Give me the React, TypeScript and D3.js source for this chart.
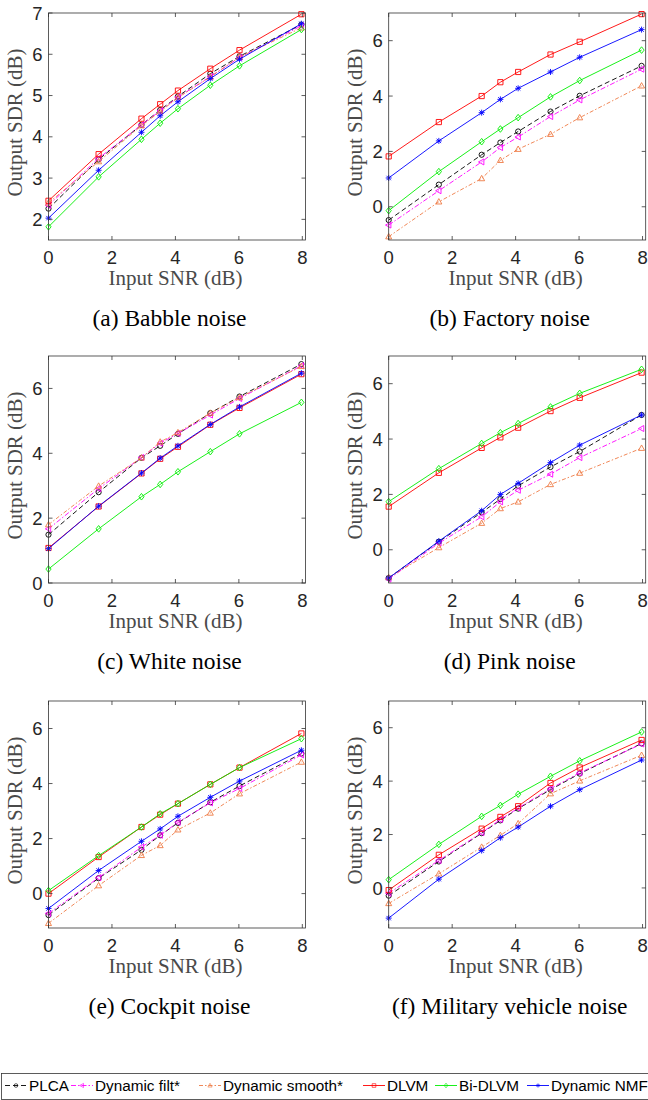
import React from 'react';
import * as d3 from 'd3';

// input SNR (dB) at which every method was evaluated
const snrIn = [0, 1.58, 2.93, 3.52, 4.08, 5.1, 6.02, 7.97];

const methods = ['PLCA', 'Dynamic filt*', 'Dynamic smooth*', 'DLVM', 'Bi-DLVM', 'Dynamic NMF'];
const methodColors = ['#000000', '#ff00ff', '#ee7a45', '#ff0000', '#00ee00', '#0000ff'];
const methodDash = ['5,3', '5,2,1.5,2', '4,2,1.5,2', '', '', ''];
const methodMarker = ['circle', 'triLeft', 'triUp', 'square', 'diamond', 'asterisk'];

// output SDR (dB), one row per method in the order above
const babble = [
  [2.26, 3.45, 4.29, 4.65, 4.98, 5.53, 5.95, 6.72],
  [2.34, 3.48, 4.29, 4.63, 4.96, 5.46, 5.92, 6.69],
  [2.4, 3.4, 4.27, 4.61, 4.95, 5.45, 5.93, 6.64],
  [2.45, 3.58, 4.44, 4.79, 5.12, 5.65, 6.1, 6.97],
  [1.82, 3.03, 3.94, 4.33, 4.68, 5.25, 5.72, 6.6],
  [2.03, 3.19, 4.11, 4.51, 4.85, 5.41, 5.88, 6.74],
];
const factory = [
  [-0.48, 0.8, 1.88, 2.32, 2.72, 3.44, 4.01, 5.09],
  [-0.66, 0.58, 1.62, 2.14, 2.52, 3.26, 3.86, 4.97],
  [-1.08, 0.18, 1.02, 1.68, 2.08, 2.62, 3.22, 4.37],
  [1.82, 3.06, 4.0, 4.5, 4.87, 5.5, 5.96, 6.96],
  [-0.14, 1.27, 2.35, 2.81, 3.22, 3.97, 4.56, 5.66],
  [1.04, 2.38, 3.4, 3.88, 4.28, 4.87, 5.4, 6.4],
];
const white = [
  [1.49, 2.8, 3.86, 4.23, 4.6, 5.24, 5.75, 6.75],
  [1.67, 2.91, 3.87, 4.31, 4.61, 5.18, 5.69, 6.7],
  [1.8, 2.99, 3.86, 4.35, 4.64, 5.24, 5.72, 6.68],
  [1.08, 2.36, 3.38, 3.83, 4.2, 4.88, 5.4, 6.44],
  [0.43, 1.67, 2.66, 3.04, 3.43, 4.05, 4.6, 5.57],
  [1.06, 2.37, 3.39, 3.85, 4.23, 4.89, 5.43, 6.47],
];
const pink = [
  [-1.02, 0.29, 1.35, 1.83, 2.31, 2.99, 3.55, 4.87],
  [-1.06, 0.24, 1.19, 1.73, 2.15, 2.73, 3.33, 4.38],
  [-1.0, 0.08, 0.96, 1.49, 1.73, 2.36, 2.77, 3.67],
  [1.56, 2.78, 3.68, 4.06, 4.41, 5.01, 5.49, 6.4],
  [1.74, 2.93, 3.84, 4.23, 4.56, 5.16, 5.65, 6.52],
  [-1.02, 0.31, 1.41, 2.0, 2.4, 3.15, 3.78, 4.87],
];
const cockpit = [
  [-0.78, 0.56, 1.59, 2.12, 2.57, 3.32, 3.91, 5.09],
  [-0.72, 0.58, 1.69, 2.12, 2.59, 3.3, 3.82, 5.04],
  [-1.08, 0.29, 1.39, 1.75, 2.32, 2.93, 3.63, 4.78],
  [0.0, 1.33, 2.42, 2.87, 3.27, 3.97, 4.58, 5.82],
  [0.11, 1.38, 2.42, 2.9, 3.27, 3.97, 4.58, 5.63],
  [-0.54, 0.84, 1.9, 2.35, 2.81, 3.5, 4.09, 5.21],
];
const military = [
  [-0.29, 0.99, 2.05, 2.53, 2.97, 3.68, 4.28, 5.41],
  [-0.2, 1.03, 2.07, 2.56, 2.99, 3.72, 4.31, 5.39],
  [-0.58, 0.53, 1.53, 1.97, 2.41, 3.53, 4.01, 4.97],
  [-0.08, 1.24, 2.22, 2.66, 3.06, 3.93, 4.51, 5.54],
  [0.31, 1.63, 2.68, 3.09, 3.51, 4.18, 4.76, 5.84],
  [-1.13, 0.33, 1.4, 1.88, 2.28, 3.06, 3.68, 4.79],
];

const panels = [
  { caption: '(a) Babble noise', data: babble, yDomain: [1.5, 7], yTicks: [2, 3, 4, 5, 6, 7] },
  { caption: '(b) Factory noise', data: factory, yDomain: [-1.2, 7], yTicks: [0, 2, 4, 6] },
  { caption: '(c) White noise', data: white, yDomain: [0, 7], yTicks: [0, 2, 4, 6] },
  { caption: '(d) Pink noise', data: pink, yDomain: [-1.2, 7], yTicks: [0, 2, 4, 6] },
  { caption: '(e) Cockpit noise', data: cockpit, yDomain: [-1.25, 7], yTicks: [0, 2, 4, 6] },
  { caption: '(f) Military vehicle noise', data: military, yDomain: [-1.5, 7], yTicks: [0, 2, 4, 6] },
];
const xTicks = [0, 2, 4, 6, 8];

const W = 257;
const H = 227;
const colLeft = [48.5, 388.7];
const rowTop = [13, 356, 701];
const sans = '"Liberation Sans", Arial, sans-serif';
const serif = '"Liberation Serif", "Times New Roman", serif';

function markerPath(type: string, x: number, y: number): string {
  const s = 2.6;
  switch (type) {
    case 'circle':
      return `M${x + s},${y}A${s},${s} 0 1,1 ${x - s},${y}A${s},${s} 0 1,1 ${x + s},${y}Z`;
    case 'square':
      return `M${x - s},${y - s}h${2 * s}v${2 * s}h${-2 * s}Z`;
    case 'diamond':
      return `M${x},${y - 3.3}L${x + 2.6},${y}L${x},${y + 3.3}L${x - 2.6},${y}Z`;
    case 'triUp':
      return `M${x},${y - 3.2}L${x + 3},${y + 2.2}L${x - 3},${y + 2.2}Z`;
    case 'triLeft':
      return `M${x - 3.2},${y}L${x + 2.2},${y - 3}L${x + 2.2},${y + 3}Z`;
    default: {
      // asterisk
      const a = 3, d = 2.2;
      return `M${x - a},${y}H${x + a}M${x},${y - a}V${y + a}M${x - d},${y - d}L${x + d},${y + d}M${x - d},${y + d}L${x + d},${y - d}`;
    }
  }
}

const Panel = ({ p, left, top }: any) => {
  const x = d3.scaleLinear().domain([0, 8.1]).range([left, left + W]);
  const y = d3.scaleLinear().domain(p.yDomain).range([top + H, top]);
  const line = d3.line<number>().x((_, i) => x(snrIn[i])).y(d => y(d));
  const cx = left + W / 2;
  return (
    <g>
      {p.data.map((vals: number[], m: number) => (
        <g key={m}>
          <path d={line(vals) || ''} fill="none" stroke={methodColors[m]} strokeWidth={0.9}
            strokeDasharray={methodDash[m] || undefined} />
          {vals.map((v, i) => (
            <path key={i} d={markerPath(methodMarker[m], x(snrIn[i]), y(v))} fill="none"
              stroke={methodColors[m]} strokeWidth={0.9} />
          ))}
        </g>
      ))}
      <rect x={left} y={top} width={W} height={H} fill="none" stroke="#333" strokeWidth={0.8} />
      {xTicks.map(t => (
        <g key={'x' + t}>
          <line x1={x(t)} x2={x(t)} y1={top + H} y2={top + H - 4} stroke="#333" strokeWidth={0.8} />
          <line x1={x(t)} x2={x(t)} y1={top} y2={top + 4} stroke="#333" strokeWidth={0.8} />
          <text x={x(t)} y={top + H + 23.5} textAnchor="middle" fontFamily={sans} fontSize={18.5} fill="#262626">{t}</text>
        </g>
      ))}
      {p.yTicks.map((t: number) => (
        <g key={'y' + t}>
          <line x1={left} x2={left + 4} y1={y(t)} y2={y(t)} stroke="#333" strokeWidth={0.8} />
          <line x1={left + W} x2={left + W - 4} y1={y(t)} y2={y(t)} stroke="#333" strokeWidth={0.8} />
          <text x={left - 6} y={y(t) + 6.6} textAnchor="end" fontFamily={sans} fontSize={18.5} fill="#262626">{t}</text>
        </g>
      ))}
      <text x={cx - 1.5} y={top + H + 45} textAnchor="middle" fontFamily={serif} fontSize={21} fill="#4a4a4a">Input SNR (dB)</text>
      <text transform={`translate(${left - 26.5},${top + H / 2 - 4}) rotate(-90)`} textAnchor="middle"
        fontFamily={serif} fontSize={21} fill="#4a4a4a">Output SDR (dB)</text>
      <text x={cx - 7.5} y={top + H + 86} textAnchor="middle" fontFamily={serif} fontSize={23.5} fill="#000">{p.caption}</text>
    </g>
  );
};

// legend sample start positions
const legendX = [5, 71, 199, 363, 435, 527];

const Legend = () => {
  const ly = 1085.5;
  return (
    <g>
      <rect x={1.5} y={1073.5} width={660} height={26} fill="#fff" stroke="#333" strokeWidth={0.8} />
      {methods.map((name, m) => {
        const x0 = legendX[m];
        return (
          <g key={name}>
            <line x1={x0} x2={x0 + 22} y1={ly} y2={ly} stroke={methodColors[m]} strokeWidth={0.9}
              strokeDasharray={methodDash[m] || undefined} />
            <path d={markerPath(methodMarker[m], x0 + 11, ly)} fill="none" stroke={methodColors[m]}
              strokeWidth={0.9} transform={`translate(${x0 + 11},${ly}) scale(0.7) translate(${-(x0 + 11)},${-ly})`} />
            <text x={x0 + 24} y={1091} fontFamily={sans} fontSize={15.3} fill="#000">{name}</text>
          </g>
        );
      })}
    </g>
  );
};

export default function App() {
  return (
    <svg width={648} height={1100} style={{ position: 'absolute', left: 0, top: 0, background: '#fff' }}>
      {panels.map((p, i) => (
        <Panel key={i} p={p} left={colLeft[i % 2]} top={rowTop[Math.floor(i / 2)]} />
      ))}
      <Legend />
    </svg>
  );
}
